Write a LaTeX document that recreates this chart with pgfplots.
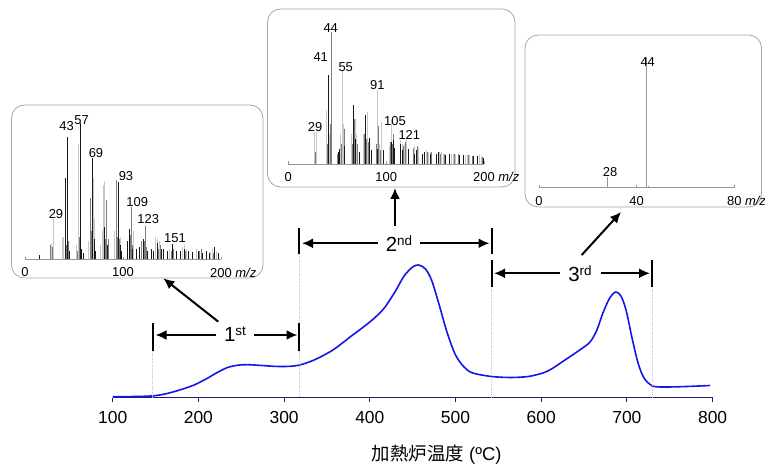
\documentclass[border=0pt]{standalone}
\usepackage{pgfplots}
\pgfplotsset{compat=1.18}
\usepackage{fontspec}
\setmainfont{Liberation Sans}
\newfontfamily\cjk{Noto Sans CJK JP}
\usetikzlibrary{arrows.meta}
\definecolor{navy}{RGB}{30,30,110}
\definecolor{curveblue}{RGB}{20,20,235}
\definecolor{lg}{RGB}{200,200,200}
\definecolor{mg}{RGB}{125,125,125}
\definecolor{dk}{RGB}{25,25,25}
\definecolor{boxgray}{RGB}{165,165,165}
\definecolor{dotgray}{RGB}{205,205,205}

\pgfplotsset{inset/.style={scale only axis, anchor=south west, ymin=0, ymax=140, clip=false,
  hide y axis, axis x line*=bottom, x axis line style={mg!80, line width=0.7bp},
  major tick length=2.5bp, tick align=inside, tick style={mg!80, line width=0.6bp},
  xticklabel style={font=\fontsize{13}{15}\selectfont, yshift=-5bp},
  /pgf/number format/assume math mode=true}}

\begin{document}
\begin{tikzpicture}[x=1bp,y=1bp]
\useasboundingbox (0,0) rectangle (765,465);

% main thermogram
\begin{axis}[at={(112.7bp,67bp)}, anchor=south west, scale only axis,
  width=599.9bp, height=398bp, xmin=100, xmax=800, ymin=0, ymax=398, clip=false,
  hide y axis, axis x line*=bottom, x axis line style={navy, line width=1bp},
  xtick={100,200,...,800}, major tick length=4bp, tick align=outside,
  tick style={navy, line width=1bp},
  xticklabel style={font=\fontsize{17.5}{20}\selectfont, yshift=-6bp},
  /pgf/number format/assume math mode=true]
\addplot[curveblue, line width=1.6bp, smooth] coordinates {
(100,1.3) (120,1.4) (140,1.8) (152,2.6) (165,4.8) (180,8.5) (195,13) (210,19.5)
(222,25.5) (234,30.5) (246,32.8) (258,33.3) (272,32.6) (290,31.6) (305,31.6) (318,33)
(335,38) (357,48) (377,61) (400,76) (416,89) (430,107) (440,122) (450,131) (457,133)
(465,129) (472,118) (480,96) (490,66) (500,43) (510,31) (520,25) (542,21.5) (564,20.5)
(585,21.5) (602,25) (612,29) (626,37) (645,48) (657,56) (665,68) (672,85)
(680,100) (687,106) (693,102) (699,88) (706,60) (713,35) (720,20) (730,12)
(745,11) (770,11.5) (797,12.5)};
\end{axis}

% dotted guides
\draw[dotgray, line width=0.7bp, densely dotted] (152.7,114) -- (152.7,67);
\draw[dotgray, line width=0.7bp, densely dotted] (299.3,211) -- (299.3,67);
\draw[dotgray, line width=0.7bp, densely dotted] (491.7,178) -- (491.7,67);
\draw[dotgray, line width=0.7bp, densely dotted] (652.3,178) -- (652.3,67);

% inset boxes
\draw[boxgray, line width=0.8bp, rounded corners=13bp, fill=white] (11.5,187) rectangle (263,360);
\draw[boxgray, line width=0.8bp, rounded corners=13bp, fill=white] (267.5,278) rectangle (515,456);
\draw[boxgray, line width=0.8bp, rounded corners=13bp, fill=white] (525,258) rectangle (761.5,430);

% inset 1
\begin{axis}[inset, at={(25bp,205.7bp)}, width=196bp, height=140bp, xmin=0, xmax=200,
  xtick={0,100,200}, xticklabels={0,100,{200\rlap{~\textit{m/z}}}}]
\addplot[ycomb, lg, line width=1bp] coordinates {
(27,16) (29,40) (38,22) (39,22) (53,14) (55,115) (65,18) (70,81) (71,40) (77,14)
(79,29) (80,74) (81,78) (91,28) (97,22) (107,22) (111,28) (121,12) (133,22) (135,20)
(137,18) (147,10) (161,12) (163,14) (165,10) (175,10) (177,8) (189,8) (191,10) (195,8)};
\addplot[ycomb, mg, line width=1bp] coordinates {
(26,14) (28,12) (42,14) (44,18) (54,8) (56,22) (67,61) (68,28) (82,20) (83,59)
(85,20) (93,79) (94,22) (96,20) (108,24) (109,52) (110,14) (119,18) (122,18) (123,33)
(124,12) (136,10) (138,14) (149,8) (152,10) (164,8) (178,8) (180,10) (192,6)};
\addplot[ycomb, dk, line width=1bp] coordinates {
(15,4) (41,81) (43,122) (45,8) (57,136) (58,10) (60,6) (69,101) (71,20) (72,8)
(81,32) (84,14) (95,77) (97,14) (98,8) (105,18) (107,30) (110,10) (114,10) (117,12)
(121,20) (125,8) (129,10) (131,8) (135,16) (139,10) (141,10) (145,8) (151,15) (155,8)
(159,8) (163,10) (167,8) (171,7) (177,8) (181,6) (185,8) (188,6) (193,12) (197,6)};
\end{axis}

% inset 2
\begin{axis}[inset, at={(288.3bp,301bp)}, width=195.7bp, height=140bp, xmin=0, xmax=200,
  xtick={0,100,200}, xticklabels={0,100,{200\rlap{~\textit{m/z}}}}]
\addplot[ycomb, lg, line width=1bp] coordinates {
(27,32) (29,32) (39,54) (42,30) (53,30) (55,94) (56,40) (65,30) (69,45) (70,30)
(77,30) (81,52) (83,20) (91,74) (93,20) (95,42) (103,18) (105,44) (107,22) (115,24)
(117,20) (119,20) (121,24) (129,18) (131,14) (133,16) (141,14) (143,12) (145,12) (155,12)
(157,12) (159,10) (167,10) (169,10) (171,10) (181,9) (183,10) (185,9) (195,9) (197,8)};
\addplot[ycomb, mg, line width=1bp] coordinates {
(28,12) (40,20) (43,40) (44,132) (50,10) (54,20) (57,35) (66,20) (68,45) (71,20)
(78,30) (80,25) (82,22) (90,20) (92,38) (94,14) (104,22) (106,20) (108,30) (118,18)
(120,22) (128,16) (132,18) (142,12) (146,12) (156,10) (160,10) (170,10) (174,10) (184,9)
(188,8) (198,7)};
\addplot[ycomb, dk, line width=1bp] coordinates {
(41,89) (51,12) (52,15) (57,18) (67,59) (69,25) (73,12) (79,49) (83,26) (85,14)
(91,15) (97,14) (105,22) (107,24) (109,16) (115,20) (117,14) (123,15) (129,10) (131,14)
(137,10) (139,12) (145,10) (151,10) (153,12) (161,9) (165,10) (175,9) (179,9) (189,8)
(193,8) (199,6)};
\end{axis}

% inset 3
\begin{axis}[inset, at={(539bp,277.3bp)}, width=195.3bp, height=140bp, xmin=0, xmax=80,
  xtick={0,40,80}, xticklabels={0,40,{80\rlap{~\textit{m/z}}}}]
\addplot[ycomb, mg!80, line width=1bp] coordinates {(28,11) (44,131) (45,2)};
\end{axis}

% peak labels
\begin{scope}[every node/.style={font=\fontsize{13}{15}\selectfont, inner sep=0}]
\node at (66.7,339) {43};
\node at (81.7,345) {57};
\node at (96,312.3) {69};
\node at (126,289) {93};
\node at (137.3,263.3) {109};
\node at (148.3,246) {123};
\node at (175,226.7) {151};
\node at (56,251) {29};
\node at (330.7,436.7) {44};
\node at (320.7,407.7) {41};
\node at (345.7,398.3) {55};
\node at (377.3,380) {91};
\node at (395,344.3) {105};
\node at (409.3,330) {121};
\node at (315,338.3) {29};
\node at (647.7,403.3) {44};
\node at (610,293.3) {28};
\end{scope}

% range bars
\begin{scope}[line width=2bp]
\draw (152.7,142) -- (152.7,114);
\draw (299.3,142) -- (299.3,114);
\draw (299.3,237) -- (299.3,211);
\draw (491.7,237) -- (491.7,211);
\draw (491.7,205) -- (491.7,178);
\draw (652.3,205) -- (652.3,178);
\end{scope}

% arrows
\begin{scope}[line width=2bp, -{Latex[length=11bp,width=10bp]}]
\draw (216,130) -- (155.5,130);
\draw (254,130) -- (297.5,130);
\draw (378,221.7) -- (302,221.7);
\draw (420,221.7) -- (489.5,221.7);
\draw (560,191.7) -- (494,191.7);
\draw (601,191.7) -- (650,191.7);
\draw (218.3,143.3) -- (163.3,186.7);
\draw (395,239) -- (395,277);
\draw (581.7,210) -- (621,253);
\end{scope}

% range labels
\begin{scope}[every node/.style={font=\fontsize{20.5}{22}\selectfont, inner sep=0, anchor=base}]
\node at (235,123.3) {1\raisebox{6.5bp}{\fontsize{13.5}{13}\selectfont st}};
\node at (399,213.3) {2\raisebox{6.5bp}{\fontsize{13.5}{13}\selectfont nd}};
\node at (580,183.3) {3\raisebox{6.5bp}{\fontsize{13.5}{13}\selectfont rd}};
\end{scope}

% axis title
\node[anchor=base, font=\fontsize{18.5}{21}\selectfont, inner sep=0] at (436.7,4) {{\cjk 加熱炉温度} (ºC)};
\end{tikzpicture}
\end{document}
